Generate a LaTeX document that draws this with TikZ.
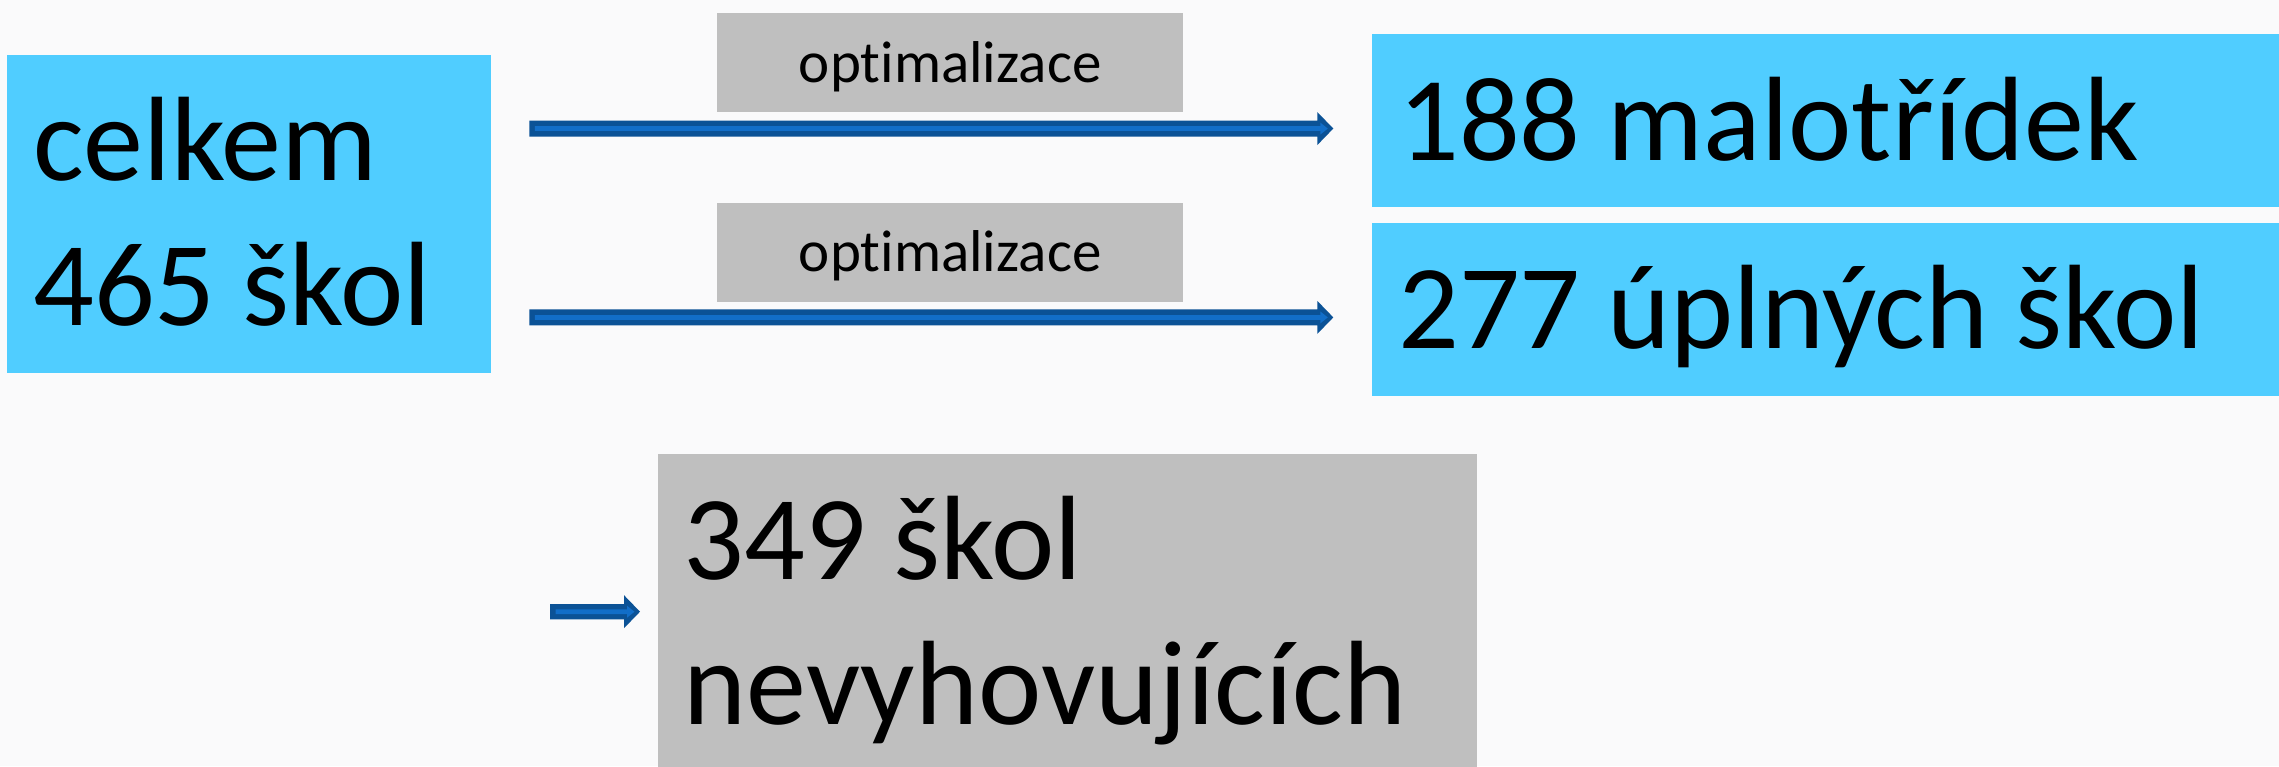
\documentclass[tikz,border=0pt]{standalone}
\usepackage{fontspec}
\setmainfont{Carlito}[Ligatures={NoCommon,NoContextual}]
\usetikzlibrary{calc}
\definecolor{bg}{RGB}{250,250,251}
\definecolor{boxblue}{RGB}{80,205,255}
\definecolor{boxgray}{RGB}{191,191,191}
\definecolor{arrdark}{RGB}{11,82,150}
\definecolor{arrlight}{RGB}{18,110,200}
\newcommand\blockarrow[3]{%
  \fill[arrdark] let \p1=(#1), \p2=(#2) in
    (\x1,\y1+#3) -- (\x2-16pt,\y1+#3) -- (\x2-16pt,\y1+16.5pt) -- (\x2,\y1)
    -- (\x2-16pt,\y1-16.5pt) -- (\x2-16pt,\y1-#3) -- (\x1,\y1-#3) -- cycle;
  \fill[arrlight] let \p1=(#1), \p2=(#2) in
    (\x1+5.5pt,\y1+2.4pt) -- (\x2-13pt,\y1+2.4pt) -- (\x2-13pt,\y1+6pt) -- (\x2-5.5pt,\y1)
    -- (\x2-13pt,\y1-6pt) -- (\x2-13pt,\y1-2.4pt) -- (\x1+5.5pt,\y1-2.4pt) -- cycle;
}
\begin{document}
\begin{tikzpicture}[x=1pt,y=-1pt,
  bluebox/.style={fill=boxblue, draw=none, rectangle, inner sep=0pt, anchor=north west},
  graybox/.style={fill=boxgray, draw=none, rectangle, inner sep=0pt, anchor=north west},
  bigtext/.style={font=\fontsize{120}{144}\selectfont, inner sep=0pt, anchor=base west},
  lbl/.style={fill=boxgray, draw=none, inner sep=0pt, minimum width=466pt, minimum height=99pt,
    text height=40pt, text depth=1pt, font=\fontsize{59}{70}\selectfont, anchor=north west}]
\useasboundingbox (0,0) rectangle (2279,766);
\clip (0,0) rectangle (2279,766);
\fill[bg] (0,0) rectangle (2279,766);

% boxes
\node[bluebox, minimum width=484pt, minimum height=317.7pt] (total) at (7,55) {};
\node[bluebox, minimum width=930pt, minimum height=172.7pt] (malo) at (1372,34) {};
\node[bluebox, minimum width=930pt, minimum height=173pt] (uplne) at (1372,222.7) {};
\node[graybox, minimum width=819.3pt, minimum height=315pt] (nev) at (657.7,454) {};
\node[lbl] (lab1) at (717,13) {optimalizace};
\node[lbl] (lab2) at (717,202.7) {optimalizace};

% texts
\node[bigtext] (total-a) at ([shift={(26pt,-125.7pt)}]total.north west) {celkem};
\node[bigtext] (total-b) at ([shift={(26pt,-270.2pt)}]total.north west) {465 škol};
\node[bigtext] (malo-t) at ([shift={(26pt,-126pt)}]malo.north west) {188 malotřídek};
\node[bigtext] (uplne-t) at ([shift={(26pt,-125.6pt)}]uplne.north west) {277 úplných škol};
\node[bigtext] (nev-a) at ([shift={(26pt,-125pt)}]nev.north west) {349 škol};
\node[bigtext] (nev-b) at ([shift={(26pt,-270pt)}]nev.north west) {nevyhovujících};

% arrows
\coordinate (a1s) at ($(total.east |- malo.west)+(38,8)$);
\coordinate (a1e) at ($(malo.west)+(-38.7,8)$);
\coordinate (a2s) at ($(total.east |- uplne.west)+(38,8)$);
\coordinate (a2e) at ($(uplne.west)+(-38.7,8)$);
\coordinate (a3e) at ($(nev.west)+(-17.7,0)$);
\coordinate (a3s) at ($(a3e)+(-90,0)$);
\blockarrow{a1s}{a1e}{8pt}
\blockarrow{a2s}{a2e}{8pt}
\blockarrow{a3s}{a3e}{7.7pt}
\end{tikzpicture}
\end{document}
